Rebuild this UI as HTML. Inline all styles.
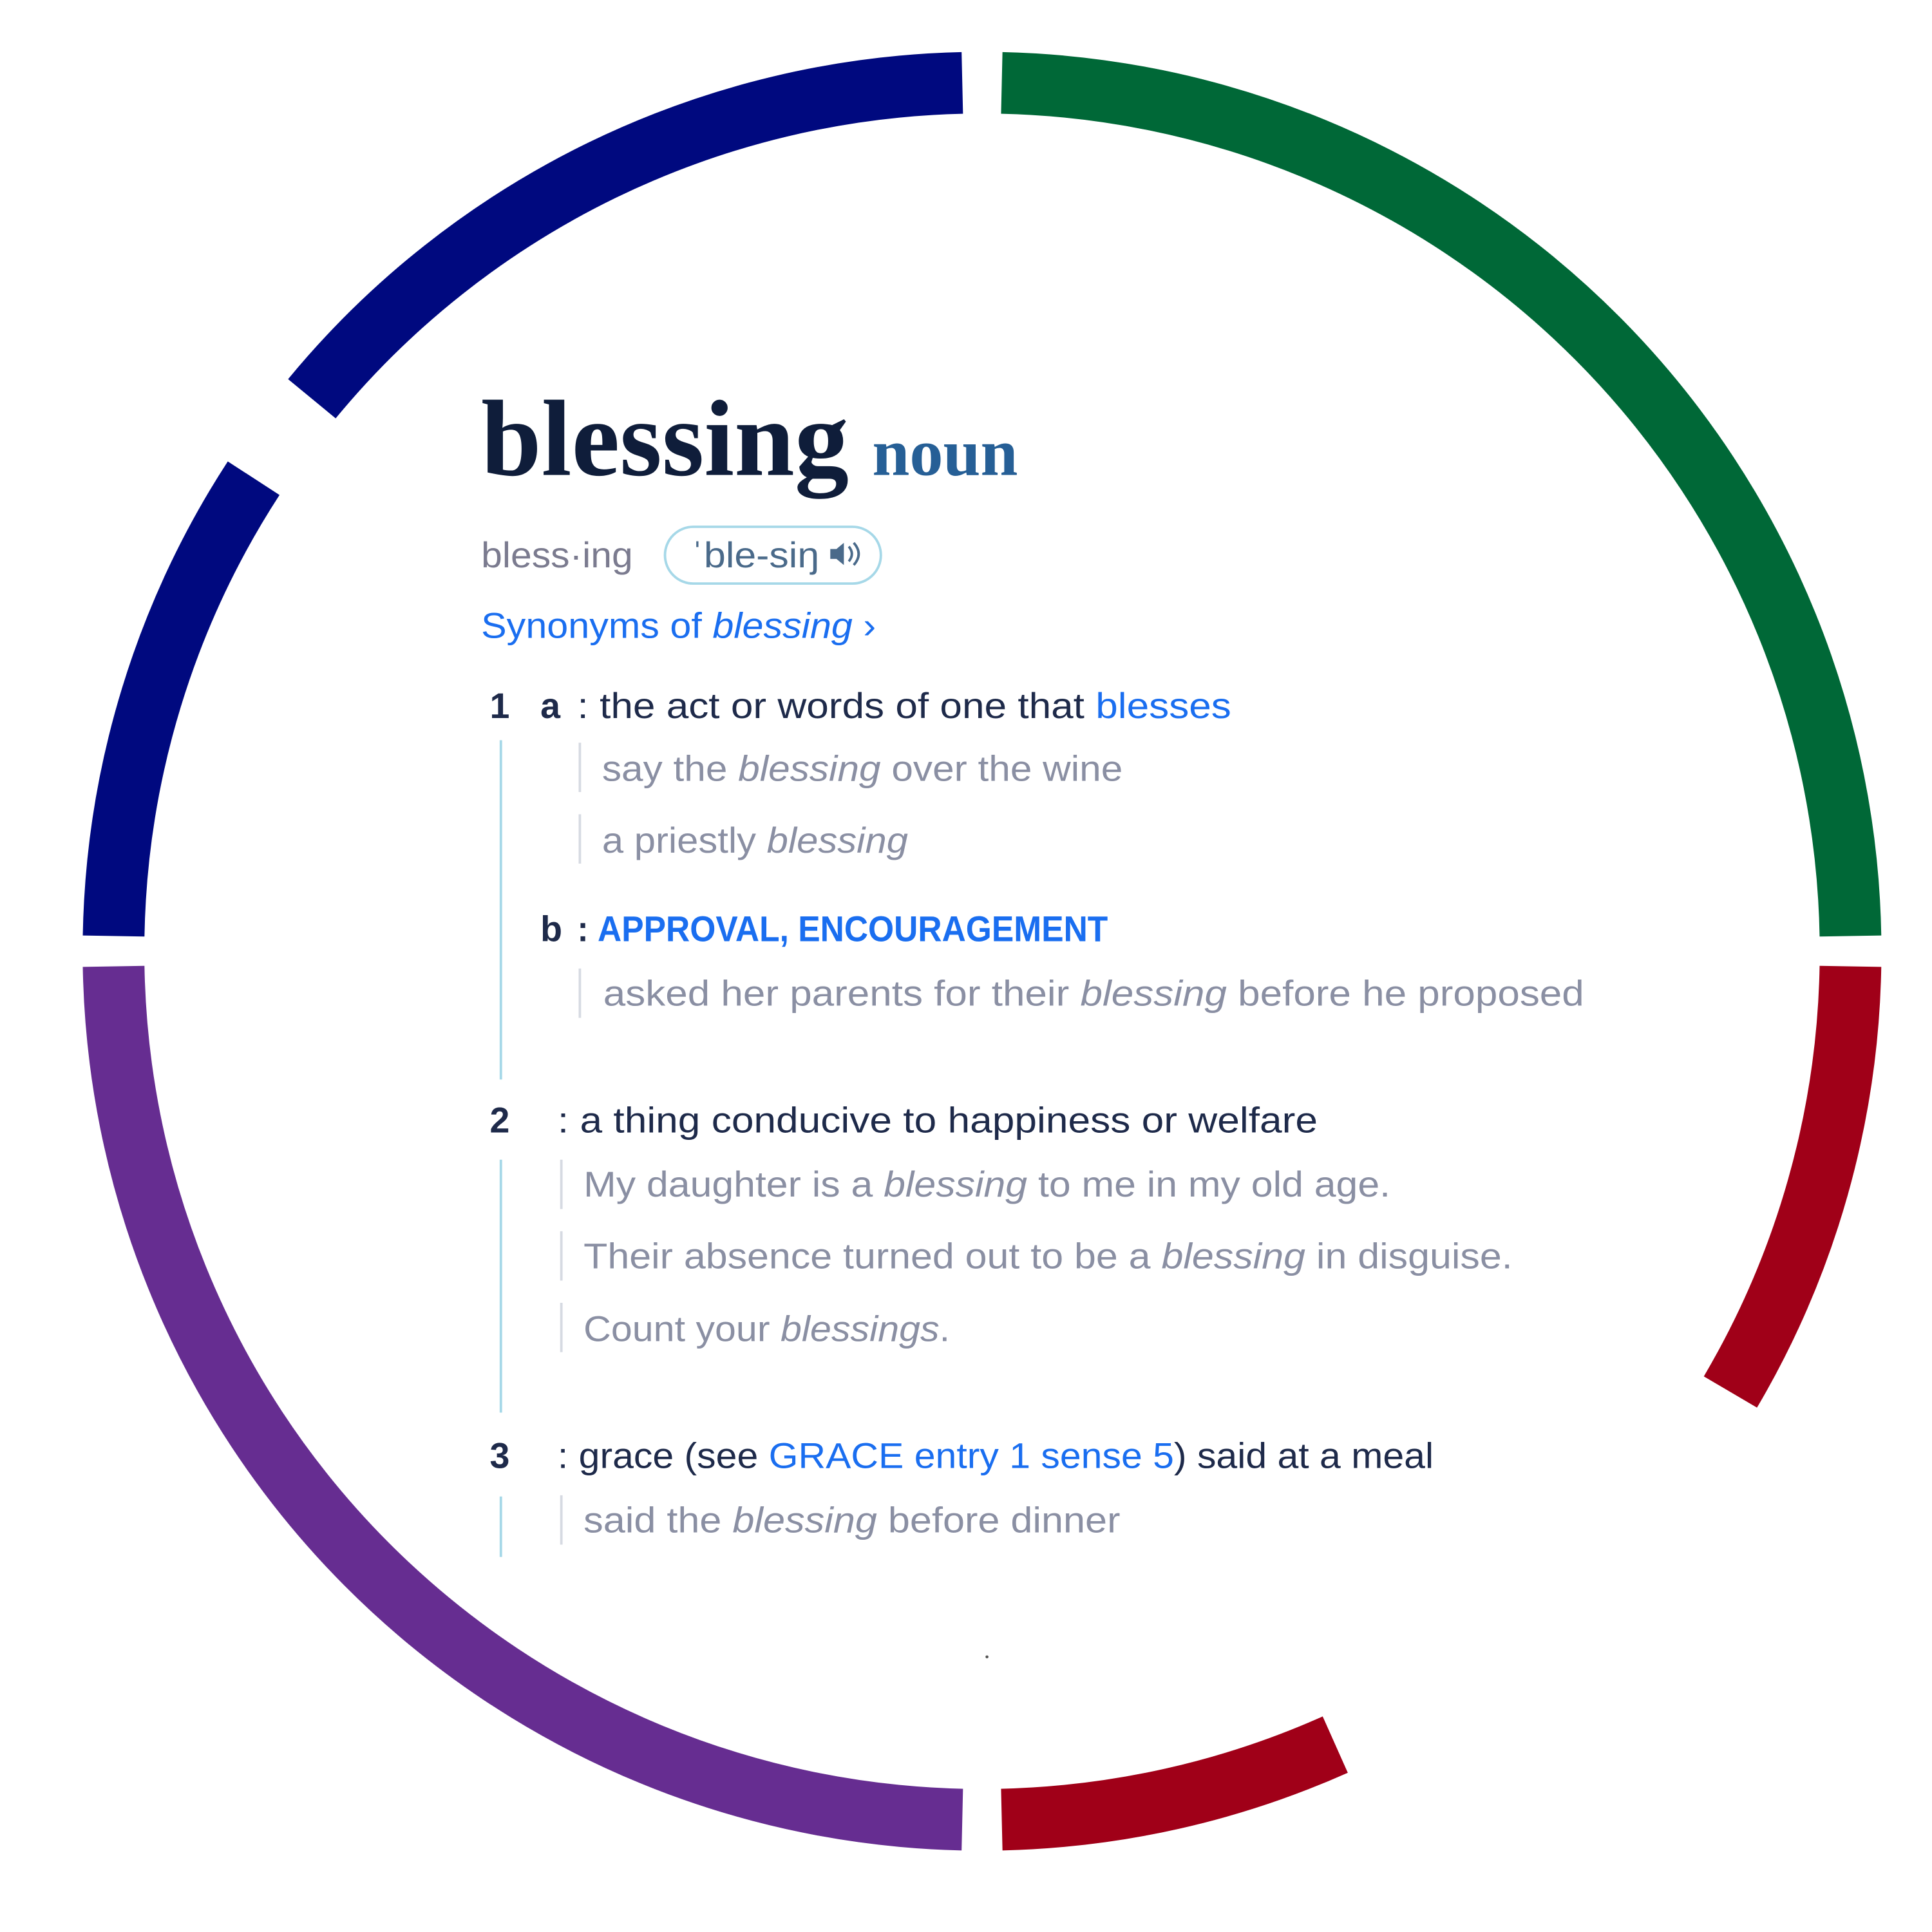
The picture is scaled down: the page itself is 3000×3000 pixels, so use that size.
<!DOCTYPE html>
<html><head><meta charset="utf-8"><style>
html,body{margin:0;padding:0;background:#fff;width:3000px;height:3000px;overflow:hidden}
svg{display:block}
.s{font-family:"Liberation Sans",sans-serif;font-size:29px}
.d{fill:#1e2a4a}
.g{fill:#8a8fa3}
.b{fill:#1a6ef0}
.i{font-style:italic}
</style></head><body>
<svg width="3000" height="3000" viewBox="0 0 1566 1566" xmlns="http://www.w3.org/2000/svg">
<g fill="none" stroke-width="50" stroke-linecap="butt">
<path d="M252.8,323.2 A704,704 0 0 1 780.0,67.2" stroke="#00097f"/>
<path d="M92.1,758.7 A704,704 0 0 1 205.6,387.6" stroke="#00097f"/>
<path d="M812.0,67.2 A704,704 0 0 1 1499.9,758.7" stroke="#006837"/>
<path d="M1499.9,783.3 A704,704 0 0 1 1402.6,1128.3" stroke="#a00018"/>
<path d="M1082.3,1414.1 A704,704 0 0 1 812.0,1474.9" stroke="#a00018"/>
<path d="M780.0,1474.9 A704,704 0 0 1 92.1,783.3" stroke="#662d91"/>
</g>
<text x="390" y="385" font-family="Liberation Serif,serif" font-weight="bold" font-size="88" fill="#0f1d3a" textLength="298" lengthAdjust="spacingAndGlyphs">blessing</text>
<text x="707" y="385" font-family="Liberation Serif,serif" font-weight="bold" font-size="54" fill="#265f96" textLength="118" lengthAdjust="spacingAndGlyphs">noun</text>
<text x="390" y="460" class="s" fill="#7b7b8f" textLength="123" lengthAdjust="spacingAndGlyphs">bless·ing</text>
<rect x="539" y="427" width="175" height="46" rx="23" fill="none" stroke="#a6d8e8" stroke-width="2"/>
<text x="560" y="460" class="s" fill="#4a6a8a" textLength="104" lengthAdjust="spacingAndGlyphs">ˈble-siŋ</text>
<path d="M673,445 h5 l6,-5 v18 l-6,-5 h-5z" fill="#4a6a8a"/>
<path d="M688,443 q5,6 0,12 M692,440 q8,9 0,18" stroke="#4a6a8a" stroke-width="2" fill="none"/>
<text x="390" y="517" class="s b" textLength="320" lengthAdjust="spacingAndGlyphs">Synonyms of <tspan class="i">blessing</tspan> ›</text>
<g stroke-width="2">
<line x1="406" y1="600" x2="406" y2="875" stroke="#a6d8e8"/>
<line x1="406" y1="940" x2="406" y2="1145" stroke="#a6d8e8"/>
<line x1="406" y1="1213" x2="406" y2="1262" stroke="#a6d8e8"/>
<line x1="470" y1="602" x2="470" y2="642" stroke="#d6dae2"/>
<line x1="470" y1="660" x2="470" y2="700" stroke="#d6dae2"/>
<line x1="470" y1="785" x2="470" y2="825" stroke="#d6dae2"/>
<line x1="455" y1="940" x2="455" y2="980" stroke="#d6dae2"/>
<line x1="455" y1="998" x2="455" y2="1038" stroke="#d6dae2"/>
<line x1="455" y1="1056" x2="455" y2="1096" stroke="#d6dae2"/>
<line x1="455" y1="1212" x2="455" y2="1252" stroke="#d6dae2"/>
</g>
<text x="397" y="582" class="s d" font-weight="bold">1</text>
<text x="438" y="582" class="s d" font-weight="bold">a</text>
<text x="468" y="582" class="s d" textLength="530" lengthAdjust="spacingAndGlyphs">: the act or words of one that <tspan class="b">blesses</tspan></text>
<text x="488" y="633" class="s g" textLength="422" lengthAdjust="spacingAndGlyphs">say the <tspan class="i">blessing</tspan> over the wine</text>
<text x="488" y="691" class="s g" textLength="248" lengthAdjust="spacingAndGlyphs">a priestly <tspan class="i">blessing</tspan></text>
<text x="438" y="763" class="s d" font-weight="bold">b</text>
<text x="468" y="763" class="s" font-size="26" font-weight="bold" textLength="430" lengthAdjust="spacingAndGlyphs"><tspan class="d">: </tspan><tspan class="b">APPROVAL, ENCOURAGEMENT</tspan></text>
<text x="489" y="815" class="s g" textLength="795" lengthAdjust="spacingAndGlyphs">asked her parents for their <tspan class="i">blessing</tspan> before he proposed</text>
<text x="397" y="918" class="s d" font-weight="bold">2</text>
<text x="452" y="918" class="s d" textLength="616" lengthAdjust="spacingAndGlyphs">: a thing conducive to happiness or welfare</text>
<text x="473" y="970" class="s g" textLength="654" lengthAdjust="spacingAndGlyphs">My daughter is a <tspan class="i">blessing</tspan> to me in my old age.</text>
<text x="473" y="1028" class="s g" textLength="753" lengthAdjust="spacingAndGlyphs">Their absence turned out to be a <tspan class="i">blessing</tspan> in disguise.</text>
<text x="473" y="1087" class="s g" textLength="297" lengthAdjust="spacingAndGlyphs">Count your <tspan class="i">blessings</tspan>.</text>
<text x="397" y="1190" class="s d" font-weight="bold">3</text>
<text x="452" y="1190" class="s d" textLength="710" lengthAdjust="spacingAndGlyphs">: grace (see <tspan class="b">GRACE entry 1 sense 5</tspan>) said at a meal</text>
<text x="473" y="1242" class="s g" textLength="435" lengthAdjust="spacingAndGlyphs">said the <tspan class="i">blessing</tspan> before dinner</text>
<circle cx="800" cy="1343" r="1.2" fill="#555"/>
</svg>
</body></html>
